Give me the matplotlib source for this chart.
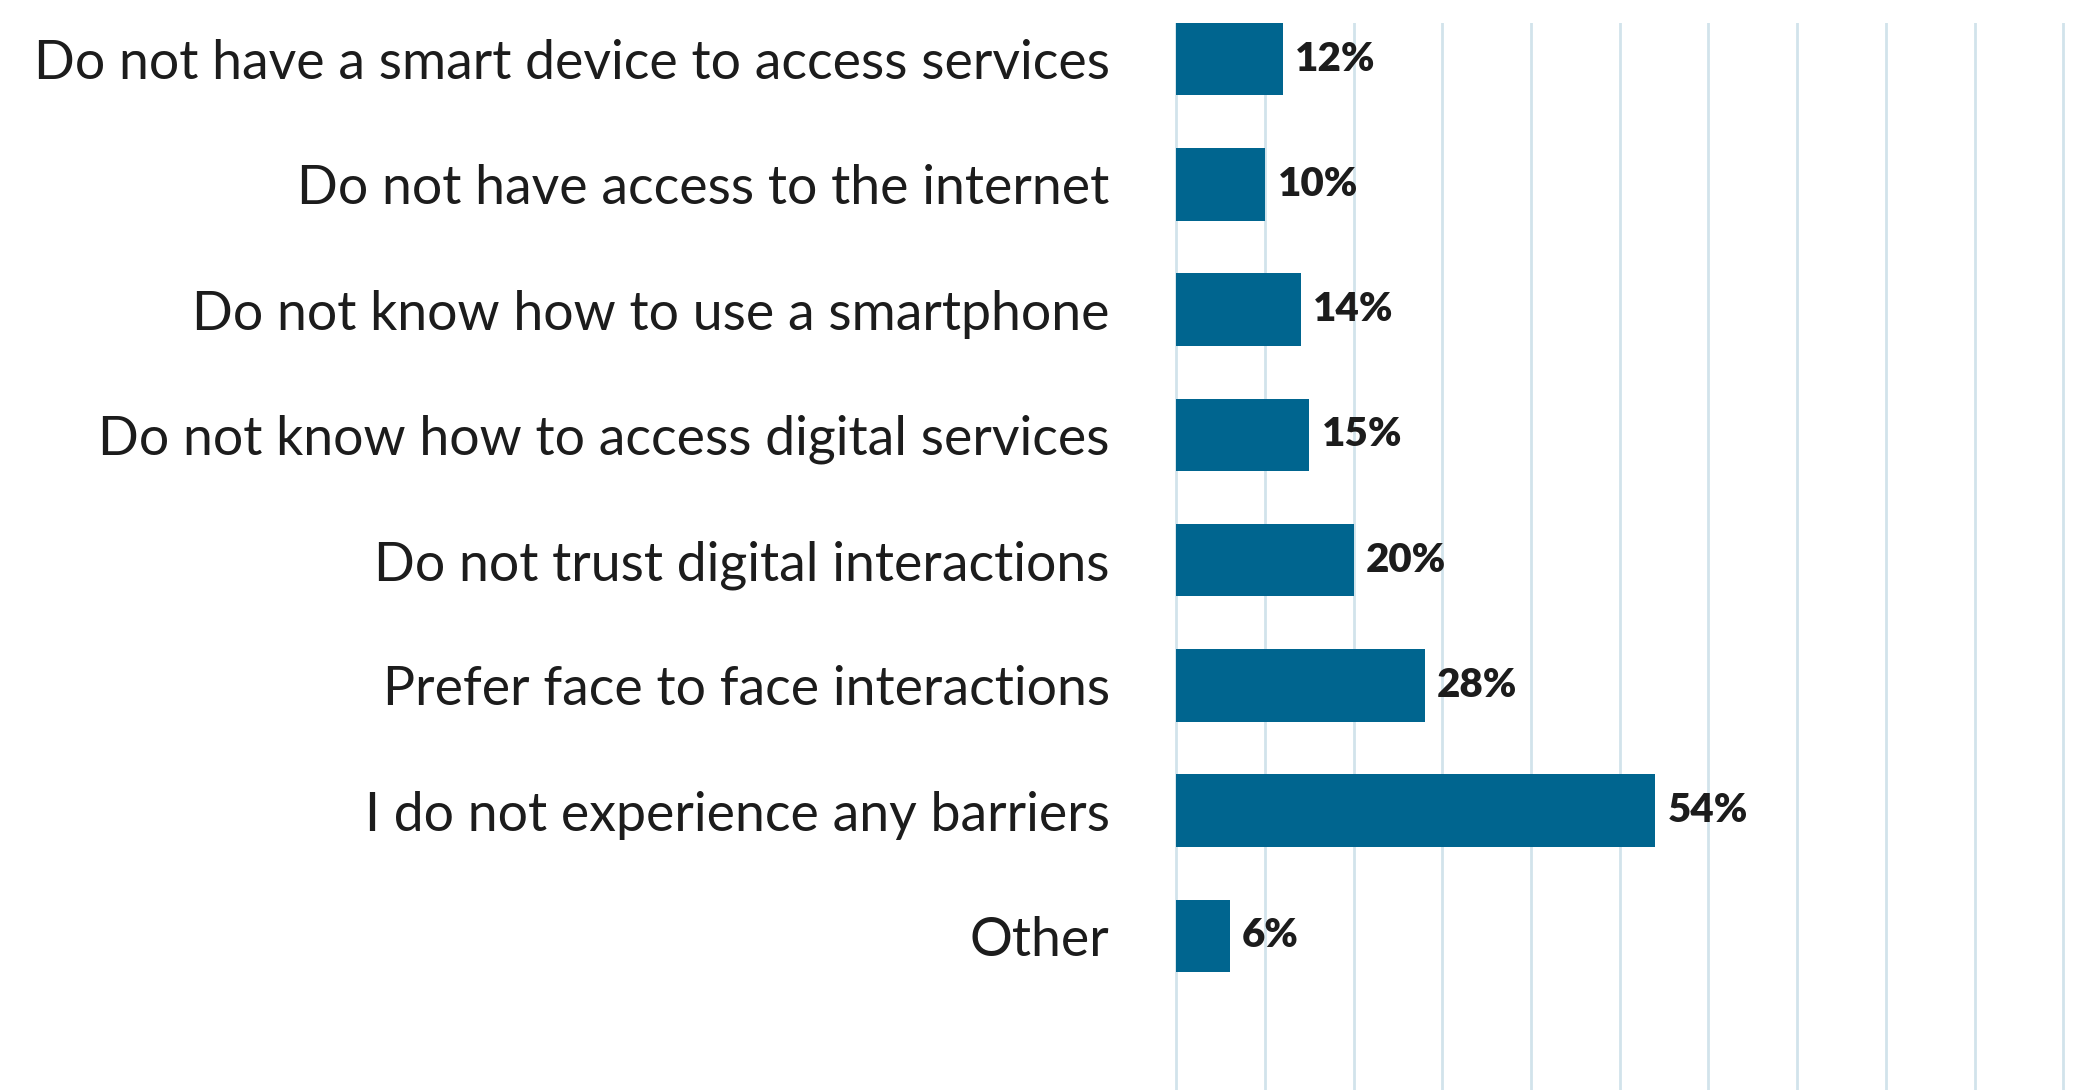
import numpy as np
import matplotlib
matplotlib.use("Agg")
import matplotlib.pyplot as plt

# Barreras para acceder a servicios digitales (% de encuestados)
categorias = [
    "Do not have a smart device to access services",
    "Do not have access to the internet",
    "Do not know how to use a smartphone",
    "Do not know how to access digital services",
    "Do not trust digital interactions",
    "Prefer face to face interactions",
    "I do not experience any barriers",
    "Other",
]
porcentajes = [12, 10, 14, 15, 20, 28, 54, 6]
grid_ticks = list(range(0, 101, 10))

COLOR_BARRA = "#00658f"
COLOR_GRID = "#d2e3eb"
COLOR_TEXTO = "#1c1c1c"
FUENTE = ["Lato", "DejaVu Sans"]

W, H = 2081, 1090
fig = plt.figure(figsize=(W / 100, H / 100), dpi=100)
ax = fig.add_axes([1175 / W, 0, (W - 1175) / W, (H - 22.7) / H])

y = np.arange(len(categorias))
ax.barh(y, porcentajes, height=0.58, color=COLOR_BARRA, zorder=3)

for yi, v in zip(y, porcentajes):
    ax.annotate(f"{v}%", xy=(v, yi), xytext=(9, 0), textcoords="offset points",
                va="center", ha="left", fontsize=29, fontweight="heavy",
                color=COLOR_TEXTO, family=FUENTE)

ax.set_xlim(-0.15, 102)
ax.set_ylim(8.23, -0.29)
ax.set_xticks(grid_ticks)
ax.set_xticklabels([])
ax.xaxis.grid(True, color=COLOR_GRID, lw=2, zorder=0)
ax.set_axisbelow(True)
ax.tick_params(axis="x", length=0)

ax.set_yticks(y)
ax.set_yticklabels(categorias, fontsize=38.6, fontweight="normal",
                   color=COLOR_TEXTO, family=FUENTE)
ax.tick_params(axis="y", length=0, pad=47)

for s in ax.spines.values():
    s.set_visible(False)

fig.savefig("out.png", dpi=100)
